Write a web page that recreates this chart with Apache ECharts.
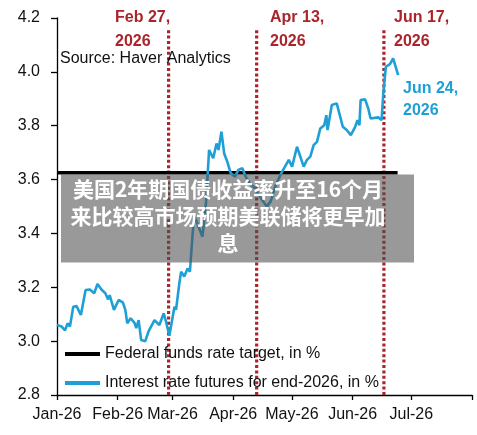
<!DOCTYPE html>
<html>
<head>
<meta charset="utf-8">
<script src="https://cdn.jsdelivr.net/npm/echarts@6/dist/echarts.min.js"></script>
<style>
html,body{margin:0;padding:0;background:#fff;}
#chart{width:477px;height:435px;}
</style>
</head>
<body>
<div id="chart"></div>
<script>
// ---- data ----
// days since 2026-01-01
const futuresDays = [0,2.4,4.1,5.4,6.6,8.3,10,12.2,14.6,16.8,19,20.7,22.7,24.7,26.1,26.9,29.1,31.5,33.7,34.9,35.9,37.6,39.6,40.5,41.7,43,45.1,46.7,49.8,52.3,54.5,55.7,57.4,
  60,60.8,62.5,63.4,65,66.7,67.9,69.3,70.1,71,72.3,74.3,76.1,77.7,79.8,81.5,82.5,84,85.4,87,88.8,91,92.6,94.7,96.4,98.9,100.6,104.2,107.2,109.2,111.8,114.3,117.4,
  118.4,120.1,122.6,124.3,126,127.7,129.4,131.1,132.8,134.5,136.5,137.6,138.2,140.4,142.9,144.7,146,148,150.1,152.3,153.5,154.5,155.1,157.4,159,160.2,161.2,164.1,165.8,166.7,168,170.1,171.7,174.3];
const futuresVals = [3.06,3.054,3.04,3.066,3.054,3.128,3.13,3.097,3.19,3.192,3.178,3.212,3.192,3.178,3.155,3.171,3.116,3.153,3.143,3.116,3.066,3.085,3.068,3.048,3.078,3.004,3.0,3.035,3.078,3.06,3.103,3.072,3.02,
  3.128,3.116,3.215,3.258,3.24,3.27,3.258,3.40,3.462,3.45,3.425,3.388,3.512,3.71,3.679,3.734,3.71,3.778,3.697,3.666,3.623,3.611,3.636,3.642,3.611,3.58,3.573,3.53,3.50,3.52,3.58,3.62,3.66,
  3.673,3.648,3.722,3.685,3.648,3.673,3.685,3.728,3.74,3.79,3.802,3.839,3.784,3.877,3.883,3.833,3.796,3.784,3.765,3.796,3.821,3.802,3.895,3.898,3.864,3.827,3.821,3.831,3.821,3.92,4.019,4.029,4.05,3.988];
const fedDates = ['2026-01-01','2026-06-24'];
const fedVals = [3.625,3.625];
const eventDates = ['2026-02-27','2026-04-13','2026-06-17'];
const monthNames = ['Jan','Feb','Mar','Apr','May','Jun','Jul','Aug'];
const yTicks = [2.8,3.0,3.2,3.4,3.6,3.8,4.0,4.2];
const seriesNames = ['Federal funds rate target, in %','Interest rate futures for end-2026, in %'];
const sourceText = 'Source: Haver Analytics';
const eventLabels = ['Feb 27,\n2026','Apr 13,\n2026','Jun 17,\n2026'];
const lastLabel = 'Jun 24,\n2026';
const captionText = '美国2年期国债收益率升至16个月\n来比较高市场预期美联储将更早加\n息';

// ---- helpers ----
const DAY = 86400000;
function parseD(s){const p=s.split('-');return new Date(+p[0],+p[1]-1,+p[2]).getTime();}
const t0 = new Date(2026,0,1).getTime();
const futData = futuresDays.map((d,i)=>[t0 + d*DAY, futuresVals[i]]);
const fedData = fedDates.map((d,i)=>[parseD(d), fedVals[i]]);
const monthTicks = monthNames.map((m,i)=>new Date(2026,i,1).getTime());
const RED = '#ab242b';
const BLUE = '#1ea0d6';
const FONT = '"Liberation Sans", Arial, sans-serif';

const eventSeries = eventDates.map((d)=>({
  type:'line', silent:true, symbol:'none', z:1,
  data:[[parseD(d), 2.8],[parseD(d), 4.155]],
  lineStyle:{color:RED, width:3.2, type:[3,2.4], cap:'butt'}
}));

const chart = echarts.init(document.getElementById('chart'), null, {renderer:'canvas'});
chart.setOption({
  animation:false,
  backgroundColor:'#fff',
  grid:{left:57, right:5, top:18, bottom:40, containLabel:false},
  xAxis:{
    type:'value',
    min:monthTicks[0], max:monthTicks[7],
    axisLine:{show:true, lineStyle:{color:'#000', width:1.3}},
    axisTick:{show:true, length:5, lineStyle:{color:'#000', width:1.3}, customValues:monthTicks},
    axisLabel:{customValues:monthTicks.slice(0,7), margin:12, color:'#111', fontSize:16, fontFamily:FONT,
      formatter:function(v){const d=new Date(v);return monthNames[d.getMonth()]+'-26';}},
    splitLine:{show:false}
  },
  yAxis:{
    type:'value', min:2.8, max:4.2, interval:0.2,
    axisLine:{show:true, lineStyle:{color:'#000', width:1.3}},
    axisTick:{show:true, length:6, lineStyle:{color:'#000', width:1.3}},
    axisLabel:{margin:17, color:'#111', fontSize:16, fontFamily:FONT, formatter:v=>v.toFixed(1)},
    splitLine:{show:false}
  },
  legend:{
    data:seriesNames, orient:'vertical', left:60, top:341, itemWidth:35, itemHeight:4, itemGap:13,
    icon:'rect', textStyle:{fontSize:16, fontFamily:FONT, color:'#111'}
  },
  series:[
    ...eventSeries,
    {name:seriesNames[0], type:'line', symbol:'none', z:3, data:fedData, itemStyle:{color:'#000'},
      lineStyle:{color:'#000', width:3.5}},
    {name:seriesNames[1], type:'line', symbol:'none', z:4, data:futData, itemStyle:{color:BLUE},
      lineStyle:{color:BLUE, width:2.6}}
  ],
  graphic:[
    {type:'text', left:60, top:51, z:10, style:{text:sourceText, font:'16px '+FONT, fill:'#111'}},
    {type:'text', left:115, top:6, z:10, style:{text:eventLabels[0], font:'bold 16px '+FONT, fill:RED, lineHeight:23.5}},
    {type:'text', left:270, top:6, z:10, style:{text:eventLabels[1], font:'bold 16px '+FONT, fill:RED, lineHeight:23.5}},
    {type:'text', left:394, top:6, z:10, style:{text:eventLabels[2], font:'bold 16px '+FONT, fill:RED, lineHeight:23.5}},
    {type:'text', left:403, top:78, z:10, style:{text:lastLabel, font:'bold 16px '+FONT, fill:BLUE, lineHeight:22}},
    {type:'rect', z:20, shape:{x:61, y:174.5, width:353, height:88}, style:{fill:'rgba(80,80,80,0.58)'}},
    {type:'text', z:21, x:228, y:175.5, style:{text:captionText, font:'bold 21px "Noto Sans CJK SC", sans-serif', fill:'#fff',
      align:'center', verticalAlign:'top', lineHeight:27}}
  ]
});
</script>
</body>
</html>
